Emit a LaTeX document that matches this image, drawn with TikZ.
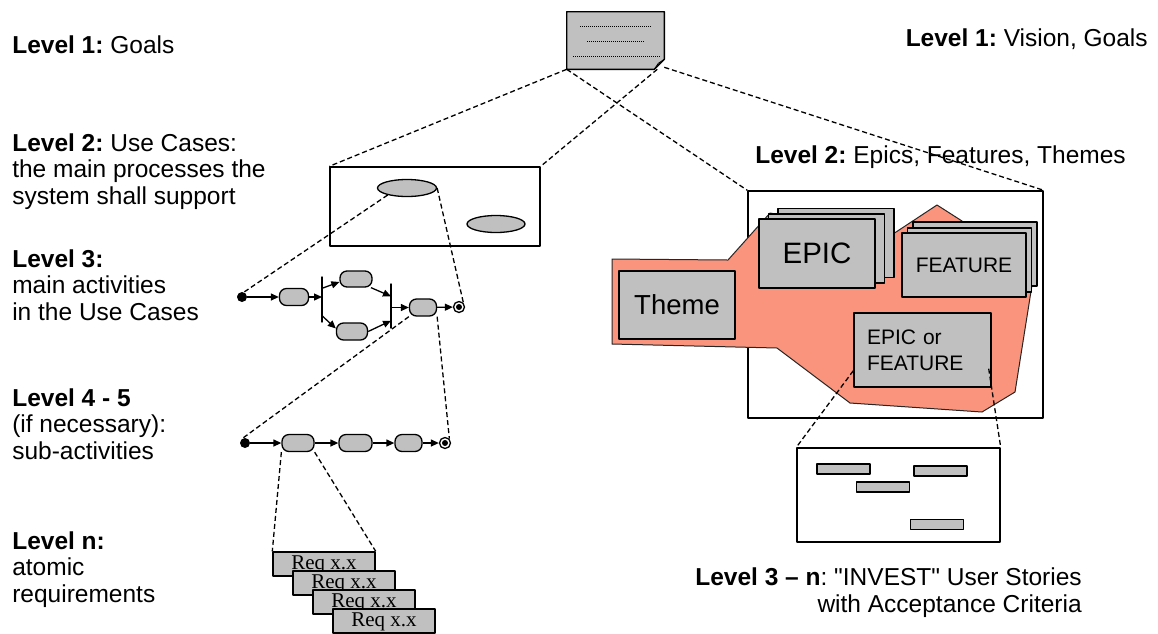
\documentclass[tikz,border=0pt]{standalone}
\usepackage{fontspec}
\setmainfont{Liberation Sans}
\newfontfamily\reqfont{Liberation Serif}
\usepackage{xcolor}
\usepackage{tikz}
\usetikzlibrary{arrows.meta}
\usetikzlibrary{shapes.geometric}

\definecolor{boxgray}{RGB}{192,192,192}
\definecolor{salmon}{RGB}{250,148,124}

\begin{document}
\frenchspacing
\begin{tikzpicture}[x=1pt,y=-1pt,line join=round,semithick]
	\tikzstyle{lvl}=[font=\fontsize{24.5}{26.5}\selectfont, align=left, inner sep=0pt]
	\tikzstyle{act}=[draw, fill=boxgray, rounded corners=7pt, minimum height=17pt, inner sep=0pt, line width=1.3pt]
	\tikzstyle{startst}=[circle, fill, inner sep=0pt, minimum size=10pt]
	\tikzstyle{endst}=[circle, draw, fill=white, line width=1.3pt, inner sep=0pt, minimum size=11pt,
		path picture={\fill[black] (path picture bounding box.center) circle (3pt);}]
	\tikzstyle{bar}=[draw, line width=1.4pt, inner sep=0pt, minimum width=0pt]
	\tikzstyle{flow}=[-{Triangle[length=8pt,width=7pt]}, line width=1.3pt]
	\tikzstyle{zoomline}=[dash pattern=on 5pt off 3pt, line width=1.3pt]
	\tikzstyle{card}=[draw, fill=boxgray, line width=1.4pt, inner sep=0pt]
	\tikzstyle{story}=[draw, fill=boxgray, line width=1.3pt, inner sep=0pt, minimum width=53pt, minimum height=10pt]

	\useasboundingbox[fill=white] (0,0) rectangle (1158,633);

	% level labels
	\node[lvl, anchor=base west] (lv1l) at (12,53) {\textbf{Level 1:} Goals};
	\node[lvl, anchor=base west] (lv2l) at (12,204) {\textbf{Level 2:} Use Cases:\\the main processes the\\system shall support};
	\node[lvl, anchor=base west] (lv3l) at (12,320) {\textbf{Level 3:}\\main activities\\in the Use Cases};
	\node[lvl, anchor=base west] (lv45l) at (12,459) {\textbf{Level 4 - 5}\\(if necessary):\\sub-activities};
	\node[lvl, anchor=base west] (lvnl) at (12,602) {\textbf{Level n:}\\atomic\\requirements};
	\node[lvl, anchor=base east] (lv1r) at (1148,46) {\textbf{Level 1:} Vision, Goals};
	\node[lvl, anchor=base west] (lv2r) at (755,163) {\textbf{Level 2:} Epics, Features, Themes};
	\node[lvl, anchor=base east, align=right] (lv3r) at (1082,612)
		{\textbf{Level 3 – n}: \textquotedbl INVEST\textquotedbl{} User Stories\\with Acceptance Criteria};

	% vision document
	\node[minimum width=97pt, minimum height=57pt, inner sep=0pt] (doc) at (615.5,40.5) {};
	\filldraw[fill=boxgray, line width=1.4pt] (doc.north west) -- (doc.north east) -- ([yshift=10pt]doc.south east)
		-- ([xshift=-10pt]doc.south east) -- (doc.south west) -- cycle;
	\draw[line width=0.8pt] ([xshift=-10pt]doc.south east) -- ([xshift=-6pt,yshift=6pt]doc.south east) -- ([yshift=10pt]doc.south east);
	\draw[dash pattern=on 1pt off 1pt, line width=0.6pt] (580,26) -- (652,26) (587,41.5) -- (645,41.5) (573,56.5) -- (660,56.5);

	% use cases
	\node[draw, line width=1.4pt, minimum width=210pt, minimum height=79pt, inner sep=0pt] (ucbox) at (435,206.5) {};
	\node[ellipse, draw, fill=boxgray, line width=1.3pt, minimum width=59pt, minimum height=17pt, inner sep=0pt] (uc1) at (407,188) {};
	\node[ellipse, draw, fill=boxgray, line width=1.3pt, minimum width=58pt, minimum height=17pt, inner sep=0pt] (uc2) at (496,224) {};

	% main activities
	\node[startst] (s3) at (242,297) {};
	\node[act, minimum width=29pt] (a31) at (294,297) {};
	\node[bar, minimum height=45pt] (fork) at (322,299.5) {};
	\node[act, minimum width=32pt, minimum height=16pt] (a32) at (356,279) {};
	\node[act, minimum width=31pt] (a33) at (352,331.5) {};
	\node[bar, minimum height=44pt] (join) at (391,306) {};
	\node[act, minimum width=27pt] (a34) at (423,307.5) {};
	\node[endst] (e3) at (459,307) {};

	\path[flow]
		(s3) edge (a31)
		(a31) edge (a31 -| fork)
		([yshift=-12pt]fork.north) edge ([yshift=-3pt]a32.west)
		([yshift=7pt]fork.south) edge ([yshift=3pt]a33.west)
		(a32.-30) edge ([yshift=-13pt]join.north)
		(a33.east) edge ([yshift=8pt]join.south)
		(join.center |- a34) edge (a34)
		(a34) edge (e3);

	% sub-activities
	\node[startst] (s4) at (245,443) {};
	\node[act, minimum width=32pt] (a41) at (298,443) {};
	\node[act, minimum width=33pt] (a42) at (355.5,443) {};
	\node[act, minimum width=27pt] (a43) at (408.5,443) {};
	\node[endst] (e4) at (445,443) {};

	\path[flow]
		(s4) edge (a41)
		(a41) edge (a42)
		(a42) edge (a43)
		(a43) edge (e4);

	% atomic requirements
	\foreach \i in {0,...,3}
		\node[card, font=\reqfont\fontsize{21}{23}\selectfont, minimum width=102pt, minimum height=24pt,
			text height=14pt, text depth=4pt, inner ysep=3pt] (r\i) at ({324+20*\i},{564+19*\i}) {Req x.x};

	% zoom lines, left side
	\draw[zoomline] (doc.south west) -- (ucbox.north west);
	\draw[zoomline] ([xshift=-7pt]doc.south east) -- (ucbox.north east);
	\draw[zoomline] (uc1.200) -- (s3.west);
	\draw[zoomline] (uc1.east) -- (e3.north east);
	\draw[zoomline] (a34.south west) -- (s4.north west);
	\draw[zoomline] (a34.south east) -- (e4.north east);
	\draw[zoomline] (a41.south west) -- (r0.north west);
	\draw[zoomline] (a41.south east) -- (r0.north east);

	% epics, features, themes
	\node[draw, line width=1.4pt, minimum width=295pt, minimum height=227pt, inner sep=0pt] (epicbox) at (895.5,304.5) {};
	\filldraw[fill=salmon, draw=black!85, line width=1pt] (612,259) -- (728,260) -- (770,213) -- (890,236) -- (937,205)
		-- (962,221) -- (1032,285) -- (1015,392) -- (982,412) -- (850,403) -- (777,348) -- (612,344) -- cycle;

	\node[card, minimum width=116pt, minimum height=68pt, font=\fontsize{27.5}{30}\selectfont] (theme) at (677,305) {Theme};

	\node[card, minimum width=116pt, minimum height=69pt] (epic3) at (836,243) {};
	\node[card, minimum width=116pt, minimum height=69pt] (epic2) at (826.5,248.5) {};
	\node[card, minimum width=116pt, minimum height=69pt, font=\fontsize{29.5}{32}\selectfont] (epic1) at (817,253.5) {EPIC};

	\node[card, minimum width=124pt, minimum height=64pt] (feat3) at (975,254) {};
	\node[card, minimum width=124pt, minimum height=64pt] (feat2) at (969.5,260) {};
	\node[card, minimum width=124pt, minimum height=64pt, font=\fontsize{21}{26}\selectfont] (feat1) at (964,265) {FEATURE};

	\node[card, minimum width=137pt, minimum height=74pt, text width=111pt, inner xsep=13pt, align=left,
		font=\fontsize{21}{26}\selectfont] (eof) at (922.5,350) {EPIC or\\FEATURE};

	% user stories
	\node[draw, line width=1.4pt, minimum width=203pt, minimum height=94pt, inner sep=0pt] (stories) at (898.5,495) {};
	\node[story] (us1) at (843.5,469) {};
	\node[story] (us2) at (940.5,471) {};
	\node[story] (us3) at (883,487) {};
	\node[story, minimum height=9.5pt] (us4) at (937,524.5) {};

	% zoom lines, right side
	\draw[zoomline] (doc.south west) -- (epicbox.north west);
	\draw[zoomline] ([yshift=2pt]doc.south east) -- (epicbox.north east);
	\draw[zoomline] ([yshift=17pt]eof.south west) -- (stories.north west);
	\draw[zoomline] ([xshift=-3pt,yshift=19pt]eof.south east) -- (stories.north east);
\end{tikzpicture}
\end{document}
